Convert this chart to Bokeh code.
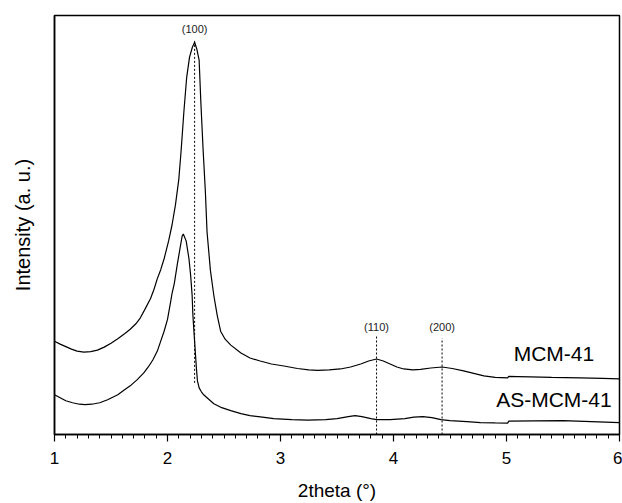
from bokeh.plotting import figure
from bokeh.models import Range1d, SingleIntervalTicker, FixedTicker
from bokeh.core.properties import value
from bokeh.embed import file_html
from bokeh.resources import INLINE

# MCM-41 pattern (2theta in degrees, intensity a.u.)
mcm_x = [1.00, 1.05, 1.10, 1.15, 1.20, 1.26, 1.32, 1.38, 1.44, 1.50, 1.56, 1.62, 1.67,
         1.72, 1.76, 1.80, 1.85, 1.88, 1.91, 1.94, 1.97, 2.01, 2.04, 2.07, 2.10, 2.12,
         2.145, 2.17, 2.195, 2.22, 2.24, 2.26, 2.28, 2.295, 2.315, 2.335, 2.35, 2.38,
         2.41, 2.44, 2.47, 2.51, 2.56, 2.65, 2.73, 2.82, 2.92, 3.03, 3.15, 3.25, 3.33,
         3.43, 3.53, 3.62, 3.71, 3.78, 3.85, 3.91, 3.97, 4.03, 4.09, 4.17, 4.24, 4.33,
         4.43, 4.52, 4.62, 4.71, 4.80, 4.90, 5.01, 5.02, 5.10, 5.21, 5.40, 5.65, 5.85,
         6.00]
mcm_y = [940, 910, 885, 860, 840, 830, 835, 850, 880, 920, 965, 1015, 1060,
         1115, 1175, 1260, 1370, 1460, 1570, 1660, 1770, 1950, 2110, 2310, 2570, 2850,
         3250, 3600, 3800, 3900, 3950, 3880, 3770, 3350, 2870, 2450, 2040, 1650,
         1400, 1200, 1040, 960, 900, 820, 770, 740, 710, 690, 665, 650, 645,
         650, 660, 680, 710, 740, 760, 740, 710, 680, 660, 650, 655, 670,
         680, 665, 640, 615, 590, 575, 570, 585, 583, 580, 575, 570, 565,
         560]

# AS-MCM-41 pattern
as_x = [1.00, 1.05, 1.10, 1.16, 1.22, 1.27, 1.33, 1.40, 1.47, 1.56, 1.62, 1.67, 1.73,
        1.79, 1.83, 1.87, 1.91, 1.94, 1.97, 2.00, 2.03, 2.04, 2.06, 2.085, 2.11, 2.13,
        2.14, 2.165, 2.19, 2.205, 2.218, 2.225, 2.235, 2.245, 2.255, 2.265, 2.28,
        2.30, 2.32, 2.37, 2.41, 2.48, 2.56, 2.65, 2.73, 2.84, 2.94, 3.10, 3.24, 3.40,
        3.50, 3.60, 3.66, 3.72, 3.80, 3.85, 3.97, 4.10, 4.18, 4.26, 4.34, 4.42, 4.50,
        4.65, 4.77, 4.90, 5.01, 5.02, 5.25, 5.50, 5.75, 6.00]
as_y = [400, 370, 340, 320, 305, 300, 305, 320, 350, 400, 450, 490, 550,
        620, 680, 750, 840, 940, 1040, 1160, 1350, 1420, 1520, 1700, 1870, 2000,
        2020, 1950, 1770, 1600, 1400, 1200, 1020, 850, 680, 540, 470,
        430, 400, 350, 310, 270, 240, 210, 190, 175, 160, 150, 145, 150,
        160, 180, 190, 180, 160, 150, 150, 160, 175, 180, 170, 150, 140,
        130, 120, 117, 115, 135, 138, 140, 130, 120]

# Reflection markers
peak_pos = [2.24, 3.85, 4.43]
peak_names = ["(100)", "(110)", "(200)"]
peak_top = [3970, 990, 970]
peak_bottom = [520, 0, 0]
peak_label_y = [4080, 1080, 1080]

series_names = ["MCM-41", "AS-MCM-41"]
series_label_x = [5.42, 5.42]
series_label_y = [820, 350]

FONT = "Liberation Sans"

p = figure(width=622, height=503, output_backend="svg", toolbar_location=None,
           x_range=Range1d(1, 6), y_range=Range1d(0, 4220),
           min_border_left=54, min_border_right=3, min_border_top=15,
           min_border_bottom=66)
p.background_fill_color = "white"
p.border_fill_color = "white"
p.outline_line_color = "black"
p.outline_line_width = 1.5
p.xgrid.visible = False
p.ygrid.visible = False

p.line(mcm_x, mcm_y, line_color="black", line_width=1.2)
p.line(as_x, as_y, line_color="black", line_width=1.2)

p.segment(x0=peak_pos, y0=peak_bottom, x1=peak_pos, y1=peak_top,
          line_color="black", line_width=1, line_dash="2 2")
p.text(x=peak_pos, y=peak_label_y, text=peak_names, text_align="center",
       text_baseline="middle", text_font=value(FONT), text_font_size="11px",
       text_color="#222222")
p.text(x=series_label_x, y=series_label_y, text=series_names, text_align="center",
       text_baseline="middle", text_font=value(FONT), text_font_size="21px",
       text_color="black")

xa = p.xaxis[0]
xa.ticker = SingleIntervalTicker(interval=1, num_minor_ticks=10)
xa.axis_label = "2theta (°)"
xa.axis_label_text_font = FONT
xa.axis_label_text_font_size = "19px"
xa.axis_label_text_font_style = "normal"
xa.axis_label_text_color = "black"
xa.axis_label_standoff = 13
xa.major_label_text_font = FONT
xa.major_label_text_font_size = "17px"
xa.major_label_text_color = "black"
xa.major_label_standoff = 10
xa.axis_line_width = 1.5
xa.axis_line_color = "black"
xa.major_tick_out = 7
xa.major_tick_in = 0
xa.minor_tick_out = 4
xa.minor_tick_in = 0
xa.major_tick_line_width = 1.2
xa.minor_tick_line_width = 1
xa.major_tick_line_color = "black"
xa.minor_tick_line_color = "black"

ya = p.yaxis[0]
ya.ticker = FixedTicker(ticks=[])
ya.axis_label = "Intensity (a. u.)"
ya.axis_label_text_font = FONT
ya.axis_label_text_font_size = "20px"
ya.axis_label_text_font_style = "normal"
ya.axis_label_text_color = "black"
ya.axis_label_standoff = 21
ya.axis_line_width = 1.5
ya.axis_line_color = "black"
ya.major_label_text_font_size = "0px"
ya.major_tick_line_color = None
ya.minor_tick_line_color = None

open("out.html", "w").write(file_html(p, INLINE))
